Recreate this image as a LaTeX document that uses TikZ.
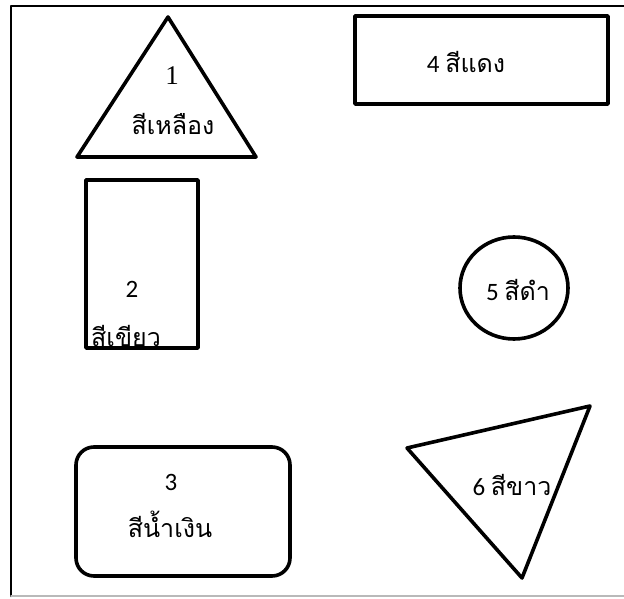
\documentclass[tikz,border=0pt]{standalone}
\usepackage{fontspec}
\newfontfamily\thaifont[Script=Thai]{Loma}
\newfontfamily\numfont{Carlito}
\newfontfamily\serifnum{Liberation Serif}

\tikzset{
  outline/.style={line width=3.6pt, line join=round},
  lbl/.style={anchor=center, inner sep=0pt, font=\fontsize{25}{30}\selectfont}
}

\begin{document}
\begin{tikzpicture}[x=1pt, y=-1pt, line cap=round, line join=round]

  %% ════ 外框 ════
  \draw[line width=2.6pt] (624,6) -- (11,6) -- (11,596);
  \draw[line width=1.4pt, gray!55] (11,596) -- (624,596);

  %% ════ 图形 ════
  \draw[outline] (168,17) -- (77,157) -- (256,157) -- cycle;          % 1
  \draw[outline] (86,180) rectangle (198,348);                          % 2
  \draw[outline, rounded corners=18pt] (76,447) rectangle (290,576);    % 3
  \draw[outline] (355,16) rectangle (608,104);                          % 4
  \draw[outline] (514,288) ellipse (54 and 51);                         % 5
  \draw[outline] (407,448) -- (590,406) -- (522,578) -- cycle;          % 6

  %% ════ 标签 ════
  \node[lbl] (n1)  at (172,76)  {\serifnum\fontsize{27}{32}\selectfont 1};
  \node[lbl] (t1)  at (173,124) {\thaifont สีเหลือง};
  \node[lbl] (n2)  at (132,289) {\numfont 2};
  \node[lbl] (t2)  at (126,336) {\thaifont สีเขียว};
  \node[lbl] (n3)  at (171,482) {\numfont 3};
  \node[lbl] (t3)  at (170,524) {\thaifont สีน้ำเงิน};
  \node[lbl] (t4)  at (466,62)  {\numfont 4 \thaifont สีแดง};
  \node[lbl] (t5)  at (518,290) {\numfont 5 \thaifont สีดำ};
  \node[lbl] (t6)  at (512,485) {\numfont 6 \thaifont สีขาว};

  % 钉死画布
  \pgfresetboundingbox
  \path[use as bounding box] (0,0) rectangle (624,599);
\end{tikzpicture}
\end{document}
